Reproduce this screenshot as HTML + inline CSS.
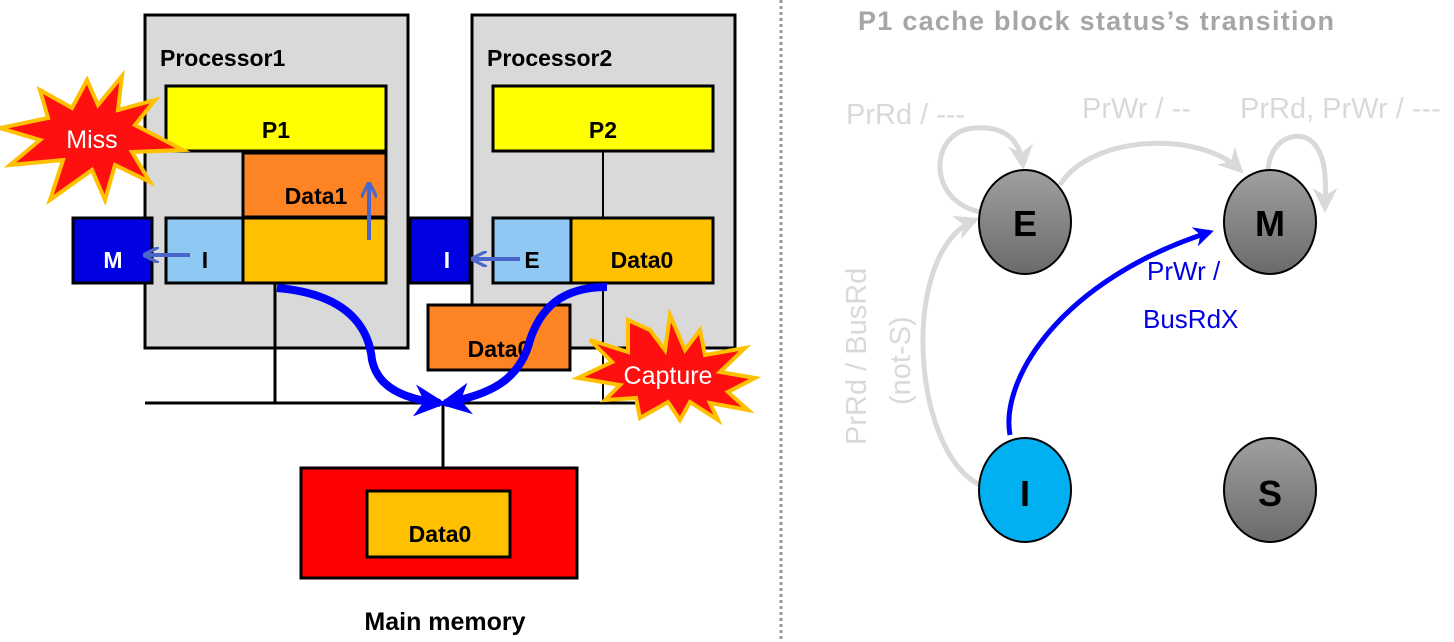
<!DOCTYPE html>
<html><head><meta charset="utf-8"><style>
body{margin:0;background:#fff;}
svg{display:block;font-family:"Liberation Sans",sans-serif;}
.b{font-weight:bold;}
</style></head><body>
<svg width="1454" height="642" viewBox="0 0 1454 642" xmlns="http://www.w3.org/2000/svg">
<defs>
<linearGradient id="g" x1="0" y1="0" x2="0" y2="1"><stop offset="0" stop-color="#a0a0a0"/><stop offset="1" stop-color="#6a6a6a"/></linearGradient>
<marker id="ag" viewBox="0 0 10 10" refX="8" refY="5" markerWidth="5" markerHeight="5" orient="auto"><path d="M0,0 L10,5 L0,10 L3,5z" fill="#d9d9d9"/></marker>
<marker id="ab" viewBox="0 0 10 10" refX="8" refY="5" markerWidth="4" markerHeight="4" orient="auto"><path d="M0,0 L10,5 L0,10 L3,5z" fill="#0000ff"/></marker>
<marker id="al" viewBox="0 0 10 10" refX="8" refY="5" markerWidth="4" markerHeight="4" orient="auto"><path d="M0,0 L10,5 L0,10" fill="none" stroke="#4a66cc" stroke-width="2"/></marker>
</defs>
<rect x="145" y="15" width="263" height="333" fill="#d9d9d9" stroke="#000" stroke-width="3"/>
<rect x="472" y="15" width="263" height="333" fill="#d9d9d9" stroke="#000" stroke-width="3"/>
<text x="160" y="66" class="b" font-size="23">Processor1</text>
<text x="487" y="66" class="b" font-size="23">Processor2</text>
<line x1="275" y1="283" x2="275" y2="403" stroke="#000" stroke-width="3"/>
<line x1="603" y1="151" x2="603" y2="218" stroke="#000" stroke-width="2"/>
<line x1="603" y1="283" x2="603" y2="403" stroke="#000" stroke-width="2"/>
<line x1="145" y1="403" x2="735" y2="403" stroke="#000" stroke-width="3"/>
<line x1="443" y1="403" x2="443" y2="468" stroke="#000" stroke-width="3"/>
<rect x="166" y="86" width="220" height="65" fill="#ffff00" stroke="#000" stroke-width="3"/>
<text x="276" y="138" class="b" font-size="23" text-anchor="middle">P1</text>
<rect x="243" y="153" width="143" height="64" fill="#fe8323" stroke="#000" stroke-width="3"/>
<text x="316" y="204" class="b" font-size="23" text-anchor="middle">Data1</text>
<rect x="166" y="218" width="77" height="65" fill="#8fc9f3" stroke="#000" stroke-width="3"/>
<rect x="243" y="218" width="143" height="65" fill="#ffc000" stroke="#000" stroke-width="3"/>
<text x="205" y="268" class="b" font-size="23" text-anchor="middle">I</text>
<rect x="73" y="218" width="79" height="65" fill="#0000e0" stroke="#000" stroke-width="3"/>
<text x="113" y="268" class="b" font-size="23" fill="#fff" text-anchor="middle">M</text>
<line x1="190" y1="255" x2="146" y2="255" stroke="#4a66cc" stroke-width="4" marker-end="url(#al)"/>
<line x1="369" y1="240" x2="369" y2="185" stroke="#4a66cc" stroke-width="4" marker-end="url(#al)"/>
<rect x="493" y="86" width="220" height="65" fill="#ffff00" stroke="#000" stroke-width="3"/>
<text x="603" y="138" class="b" font-size="23" text-anchor="middle">P2</text>
<rect x="493" y="218" width="78" height="65" fill="#8fc9f3" stroke="#000" stroke-width="3"/>
<rect x="571" y="218" width="142" height="65" fill="#ffc000" stroke="#000" stroke-width="3"/>
<text x="532" y="268" class="b" font-size="23" text-anchor="middle">E</text>
<text x="642" y="268" class="b" font-size="23" text-anchor="middle">Data0</text>
<rect x="410" y="218" width="60" height="65" fill="#0000e0" stroke="#000" stroke-width="3"/>
<text x="447" y="268" class="b" font-size="23" fill="#fff" text-anchor="middle">I</text>
<line x1="520" y1="259" x2="474" y2="259" stroke="#4a66cc" stroke-width="4" marker-end="url(#al)"/>
<rect x="428" y="305" width="142" height="65" fill="#fe8323" stroke="#000" stroke-width="3"/>
<text x="499" y="357" class="b" font-size="23" text-anchor="middle">Data0</text>
<path d="M277,288 C360,295 370,340 372,360 C378,390 410,400 440,403" fill="none" stroke="#0000ff" stroke-width="8" marker-end="url(#ab)"/>
<path d="M607,287 C560,287 540,310 530,340 C520,380 490,395 445,403" fill="none" stroke="#0000ff" stroke-width="8" marker-end="url(#ab)"/>
<rect x="301" y="468" width="276" height="110" fill="#ff0000" stroke="#000" stroke-width="3"/>
<rect x="367" y="491" width="143" height="66" fill="#ffc000" stroke="#000" stroke-width="3"/>
<text x="440" y="542" class="b" font-size="23" text-anchor="middle">Data0</text>
<text x="445" y="630" class="b" font-size="25" text-anchor="middle">Main memory</text>
<polygon points="87,80 98,105 122,76 118,110 155,100 135,125 183,150 132,152 150,182 115,165 105,200 92,170 50,200 63,160 10,165 40,140 0,128 48,118 40,90 72,108" fill="#ff1010" stroke="#ffc000" stroke-width="4"/>
<text x="92" y="148" font-size="25" fill="#fff" text-anchor="middle">Miss</text>
<polygon points="650,330 665,350 670,315 685,350 700,330 705,355 745,348 720,372 755,378 728,392 748,410 710,403 718,420 690,402 680,420 668,402 640,418 636,398 605,400 620,385 578,378 612,362 590,340 628,352 628,320" fill="#ff1010" stroke="#ffc000" stroke-width="4"/>
<text x="668" y="384" font-size="25" fill="#fff" text-anchor="middle">Capture</text>
<line x1="781" y1="0" x2="781" y2="642" stroke="#999" stroke-width="3" stroke-dasharray="3,3"/>
<text x="858" y="30" class="b" font-size="27" fill="#a6a6a6" textLength="476">P1 cache block status’s transition</text>
<text x="846" y="124" font-size="29" fill="#d9d9d9">PrRd / ---</text>
<text x="1082" y="118" font-size="29" fill="#d9d9d9">PrWr / --</text>
<text x="1240" y="118" font-size="29" fill="#d9d9d9">PrRd, PrWr / ---</text>
<path d="M980,212 C925,200 930,130 975,128 C1005,126 1020,140 1023,165" fill="none" stroke="#d9d9d9" stroke-width="5" marker-end="url(#ag)"/>
<path d="M1060,185 C1090,135 1200,130 1240,170" fill="none" stroke="#d9d9d9" stroke-width="5" marker-end="url(#ag)"/>
<path d="M1268,170 C1270,140 1295,130 1310,140 C1330,155 1325,195 1325,208" fill="none" stroke="#d9d9d9" stroke-width="5" marker-end="url(#ag)"/>
<path d="M980,485 C910,450 900,250 975,220" fill="none" stroke="#d9d9d9" stroke-width="5" marker-end="url(#ag)"/>
<text transform="translate(866,445) rotate(-90)" font-size="29" fill="#d9d9d9">PrRd / BusRd</text>
<text transform="translate(910,405) rotate(-90)" font-size="29" fill="#d9d9d9">(not-S)</text>
<path d="M1010,435 C1000,380 1060,280 1210,232" fill="none" stroke="#0000ff" stroke-width="5" marker-end="url(#ab)"/>
<text x="1147" y="280" font-size="26" fill="#0000e0">PrWr /</text>
<text x="1143" y="328" font-size="26" fill="#0000e0">BusRdX</text>
<ellipse cx="1025" cy="222" rx="46" ry="52" fill="url(#g)" stroke="#000" stroke-width="2"/>
<ellipse cx="1270" cy="222" rx="46" ry="52" fill="url(#g)" stroke="#000" stroke-width="2"/>
<ellipse cx="1025" cy="490" rx="46" ry="52" fill="#00b0f0" stroke="#000" stroke-width="2"/>
<ellipse cx="1270" cy="490" rx="46" ry="52" fill="url(#g)" stroke="#000" stroke-width="2"/>
<text x="1025" y="236" class="b" font-size="36" text-anchor="middle">E</text>
<text x="1270" y="236" class="b" font-size="36" text-anchor="middle">M</text>
<text x="1025" y="506" class="b" font-size="36" text-anchor="middle">I</text>
<text x="1270" y="506" class="b" font-size="36" text-anchor="middle">S</text>
</svg>
</body></html>
